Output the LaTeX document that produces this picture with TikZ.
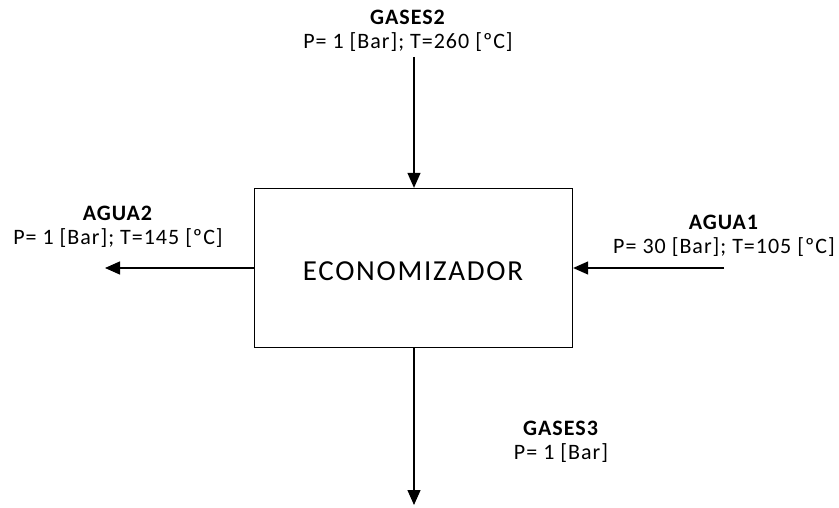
\documentclass[tikz,border=0pt]{standalone}
\usepackage{fontspec}
\setmainfont{Carlito}
\newfontfamily\lblfont[LetterSpace=4.5]{Carlito}
\newfontfamily\unitfont[LetterSpace=6]{Carlito}
\usetikzlibrary{arrows.meta}
\begin{document}
\begin{tikzpicture}[x=1pt,y=-1pt,
  flow/.style={line width=1.3pt,-{Triangle[length=15pt,width=13pt]}},
  lbl/.style={align=center,inner sep=0pt,font=\lblfont\fontsize{22}{24.5}\selectfont},
  unit/.style={draw,line width=1.3pt,minimum width=318pt,minimum height=159pt,inner sep=0pt}]
\useasboundingbox (0,0) rectangle (839,508);
% central unit
\node[unit] (eco) at (413.5,268) {};
\node[font=\unitfont\fontsize{29}{32}\selectfont,inner sep=0pt] (ecot) at (413,271) {ECONOMIZADOR};
% stream ends
\coordinate (g2) at (414,57);
\coordinate (g3) at (414,505);
\coordinate (a2) at (105,268);
\coordinate (a1) at (724,268);
% streams
\draw[flow] (g2) -- (g2 |- eco.north);
\draw[flow] (g3 |- eco.south) -- (g3);
\draw[flow] (eco.west |- a2) -- (a2);
\draw[flow] (a1) -- (eco.east |- a1);
% stream labels
\node[lbl] (tg2) at (408,31) {\textbf{GASES2}\\P= 1 [Bar]; T=260 [ºC]};
\node[lbl] (ta2) at (118,227) {\textbf{AGUA2}\\P= 1 [Bar]; T=145 [ºC]};
\node[lbl] (ta1) at (724,236) {\textbf{AGUA1}\\P= 30 [Bar]; T=105 [ºC]};
\node[lbl] (tg3) at (561,442) {\textbf{GASES3}\\P= 1 [Bar]};
\end{tikzpicture}
\end{document}
